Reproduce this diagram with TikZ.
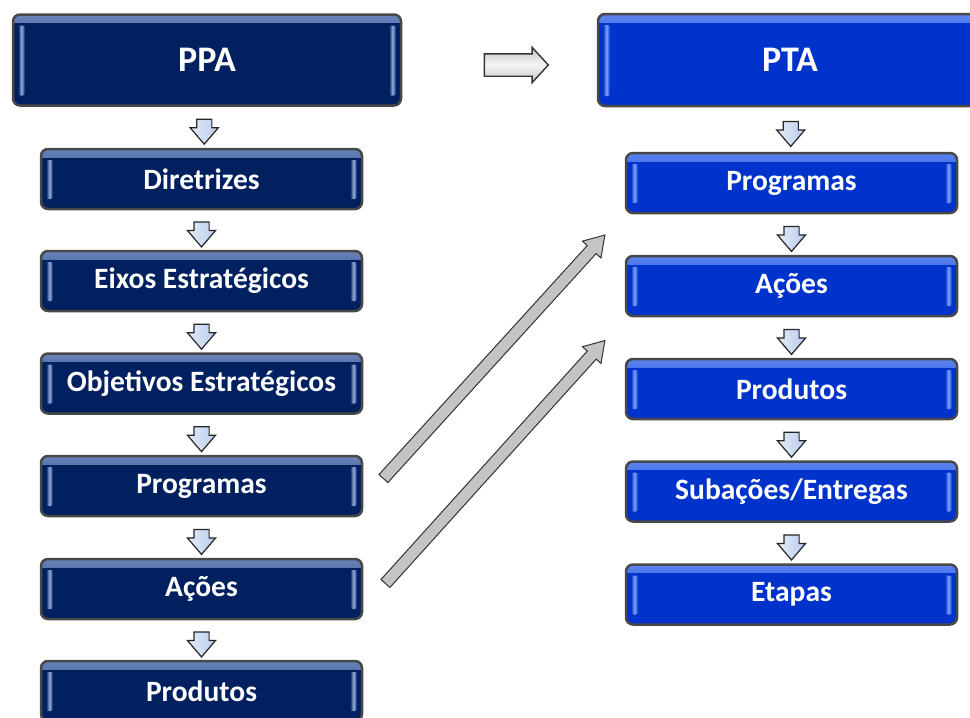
\documentclass[tikz,border=0pt]{standalone}
\usepackage{fontspec}
\setmainfont{Carlito}
\usetikzlibrary{shapes.arrows,calc}

\definecolor{ppanavy}{RGB}{0,32,96}
\definecolor{ptablue}{RGB}{0,51,204}
\definecolor{rimgray}{RGB}{72,72,72}
\definecolor{navyshine}{RGB}{150,175,225}
\definecolor{blueshine}{RGB}{130,165,255}
\definecolor{arrowblue}{RGB}{185,205,238}
\definecolor{arrowgray}{RGB}{196,196,196}

\newcommand{\headsize}{\bfseries\fontsize{36}{40}\selectfont}
\newcommand{\itemsize}{\bfseries\fontsize{29.5}{32}\selectfont}

\tikzset{
	plate/.style 2 args={draw=rimgray, line width=2.5pt, rounded corners=7pt, fill=#1, text=white, inner sep=0pt,
		path picture={
			\shade[sharp corners, top color=#2!70!#1, bottom color=#1] (path picture bounding box.north west) rectangle ([yshift=-8pt]path picture bounding box.north east);
			\shade[rounded corners=2pt, left color=#1, right color=#1, middle color=#2] ([xshift=5pt,yshift=-11pt]path picture bounding box.north west) rectangle ([xshift=12pt,yshift=10pt]path picture bounding box.south west);
			\shade[rounded corners=2pt, left color=#1, right color=#1, middle color=#2] ([xshift=-5pt,yshift=-11pt]path picture bounding box.north east) rectangle ([xshift=-12pt,yshift=10pt]path picture bounding box.south east);}},
	ppahead/.style={plate={ppanavy}{navyshine}, minimum width=388, minimum height=91, font=\headsize},
	ptahead/.style={plate={ptablue}{blueshine}, minimum width=384, minimum height=92, font=\headsize},
	ppaitem/.style={plate={ppanavy}{navyshine}, minimum width=321, minimum height=60, font=\itemsize},
	ptaitem/.style={plate={ptablue}{blueshine}, minimum width=331, minimum height=60, font=\itemsize},
	dnarrow/.style={single arrow, draw=black!85, line width=1.2pt, left color=white!60!arrowblue, right color=arrowblue, rotate=-90,
		minimum height=25, inner xsep=0pt, inner ysep=7pt, single arrow head extend=6.5, single arrow tip angle=81},
	flatarrow/.style={single arrow, draw=black!80, line width=1.4pt, top color=arrowgray, bottom color=arrowgray, middle color=white!85!arrowgray,
		minimum height=64, inner xsep=0pt, inner ysep=10.5pt, single arrow head extend=6.5, single arrow tip angle=95},
	slantarrow/.style={single arrow, draw=black!80, line width=1pt, fill=arrowgray,
		inner xsep=0pt, inner ysep=5.5pt, single arrow head extend=6.5, single arrow tip angle=65}
}

\begin{document}
\begin{tikzpicture}[x=1pt,y=-1pt]
	\useasboundingbox (0,0) rectangle (970,718);
	\clip (0,0) rectangle (970,718);

	\node[ppahead] (ppa) at (207,60) {PPA};
	\node[ppaitem] (ldir) at (201.5,179) {Diretrizes};
	\node[ppaitem] (leixo) at (201.5,281) {Eixos Estratégicos};
	\node[ppaitem] (lobj) at (201.5,383.5) {Objetivos Estratégicos};
	\node[ppaitem] (lprog) at (201.5,486) {Programas};
	\node[ppaitem] (lacoes) at (201.5,589) {Ações};
	\node[ppaitem] (lprod) at (201.5,691) {Produtos};

	\node[ptahead] (pta) at (790,60) {PTA};
	\node[ptaitem] (rprog) at (791.5,183) {Programas};
	\node[ptaitem] (racoes) at (791.5,286) {Ações};
	\node[ptaitem] (rprod) at (791.5,389) {Produtos};
	\node[ptaitem] (rsub) at (791.5,491.5) {Subações/Entregas};
	\node[ptaitem] (retapa) at (791.5,594.5) {Etapas};

	\foreach \a/\b in {ppa/ldir,ldir/leixo,leixo/lobj,lobj/lprog,lprog/lacoes,lacoes/lprod,pta/rprog,rprog/racoes,racoes/rprod,rprod/rsub,rsub/retapa}
		\path (\a.south) -- node[dnarrow] {} (\b.north);

	\path (ppa.east) -- node[pos=.56, yshift=-5pt, flatarrow] {} (pta.west);

	\path let \p1=($(lprog.east)+(17,-4)$), \p2=($(rprog.south west)!.5!(racoes.north west)+(-23,4)$), \n1={veclen(\x2-\x1,\y2-\y1)} in
		(\p1) -- node[sloped, slantarrow, minimum height=\n1] {} (\p2);
	\path let \p1=($(lacoes.east)+(19,-2)$), \p2=($(racoes.south west)!.5!(rprod.north west)+(-23,6.5)$), \n1={veclen(\x2-\x1,\y2-\y1)} in
		(\p1) -- node[sloped, slantarrow, minimum height=\n1] {} (\p2);
\end{tikzpicture}
\end{document}
